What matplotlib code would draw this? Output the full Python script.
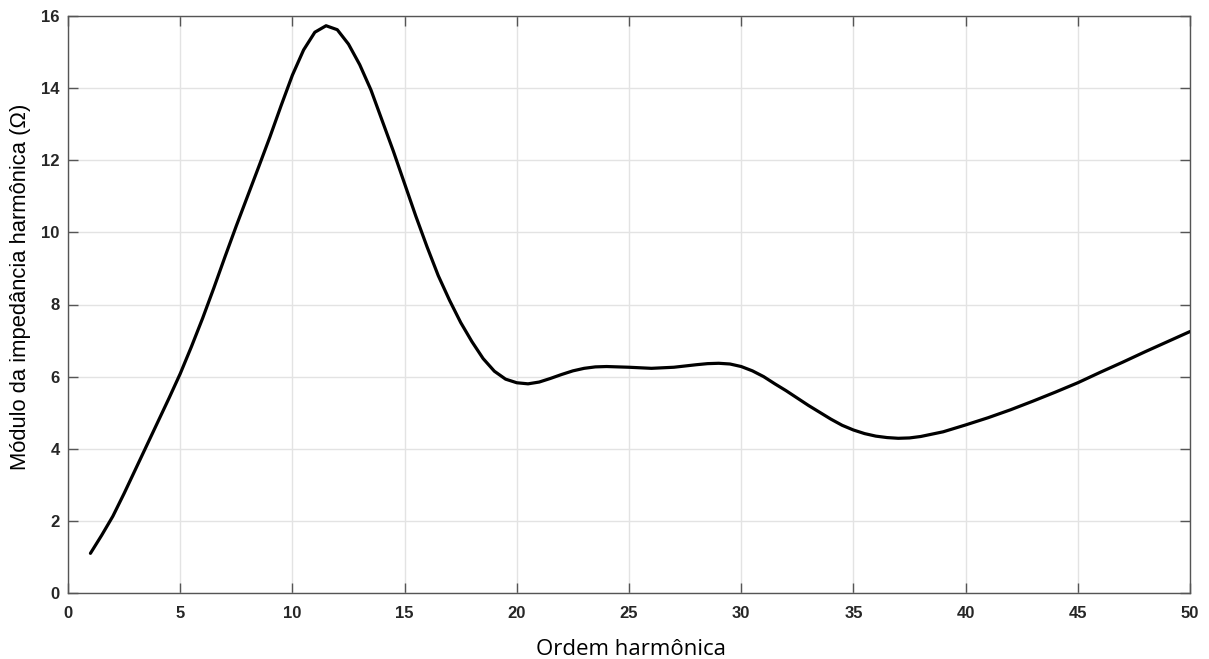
import matplotlib
matplotlib.use("Agg")
import matplotlib.pyplot as plt
import numpy as np

# Harmonic order and impedance magnitude
harmonic_order = [1, 1.5, 2, 2.5, 3, 3.5, 4, 4.5, 5, 5.5, 6, 6.5, 7, 7.5, 8, 8.5, 9, 9.5,
                  10, 10.5, 11, 11.5, 12, 12.5, 13, 13.5, 14, 14.5, 15, 15.5, 16, 16.5,
                  17, 17.5, 18, 18.5, 19, 19.5, 20, 20.5, 21, 21.5, 22, 22.5, 23, 23.5,
                  24, 25, 26, 27, 28, 28.5, 29, 29.5, 30, 30.5, 31, 31.5, 32, 33, 34,
                  34.5, 35, 35.5, 36, 36.5, 37, 37.5, 38, 39, 40, 41, 42, 43, 44, 45,
                  46, 47, 48, 49, 50]
impedance = [1.10, 1.60, 2.13, 2.76, 3.42, 4.08, 4.74, 5.40, 6.08, 6.83, 7.62, 8.46,
             9.33, 10.18, 11.00, 11.82, 12.65, 13.52, 14.36, 15.06, 15.55, 15.73, 15.62,
             15.22, 14.65, 13.95, 13.10, 12.25, 11.35, 10.45, 9.60, 8.80, 8.12, 7.50,
             6.97, 6.50, 6.15, 5.93, 5.83, 5.80, 5.85, 5.95, 6.06, 6.16, 6.23, 6.27,
             6.28, 6.26, 6.23, 6.26, 6.33, 6.36, 6.37, 6.35, 6.28, 6.16, 6.00, 5.80,
             5.61, 5.20, 4.82, 4.65, 4.52, 4.42, 4.35, 4.31, 4.29, 4.30, 4.34, 4.47,
             4.66, 4.86, 5.08, 5.32, 5.57, 5.83, 6.12, 6.40, 6.69, 6.97, 7.25]

x_ticks = [0, 5, 10, 15, 20, 25, 30, 35, 40, 45, 50]
y_ticks = [0, 2, 4, 6, 8, 10, 12, 14, 16]
x_label = "Ordem harmônica"
y_label = "Módulo da impedância harmônica (Ω)"

W, H = 1209, 659
fig = plt.figure(figsize=(W / 100, H / 100), dpi=100)
ax = fig.add_axes([68 / W, (H - 593) / H, (1190 - 68) / W, (593 - 16) / H])

ax.plot(harmonic_order, impedance, color="black", linewidth=2.3,
        solid_joinstyle="round", solid_capstyle="round", zorder=3)

ax.set_xlim(0, 50)
ax.set_ylim(0, 16)
ax.set_xticks(x_ticks)
ax.set_yticks(y_ticks)
ax.grid(True, color="#e3e3e3", linewidth=1.0)
ax.set_axisbelow(True)

for s in ax.spines.values():
    s.set_color("#555555")
    s.set_linewidth(1.0)

ax.tick_params(direction="in", length=7.5, width=1.0, color="#555555",
               top=True, right=True, labelsize=12, labelcolor="#262626")
ax.tick_params(axis="x", pad=9)
ax.tick_params(axis="y", pad=6)
for lab in ax.get_xticklabels() + ax.get_yticklabels():
    lab.set_fontfamily("Liberation Sans")
    lab.set_fontweight("bold")

fig.text(631 / W, (H - 655) / H, x_label, fontsize=16, fontfamily="Open Sans",
         color="black", ha="center", va="baseline")
fig.text(21 / W, (H - 287) / H, y_label, fontsize=15.8, fontfamily="Liberation Sans",
         color="black", ha="center", va="center", rotation=90)

fig.savefig("out.png", dpi=100)
